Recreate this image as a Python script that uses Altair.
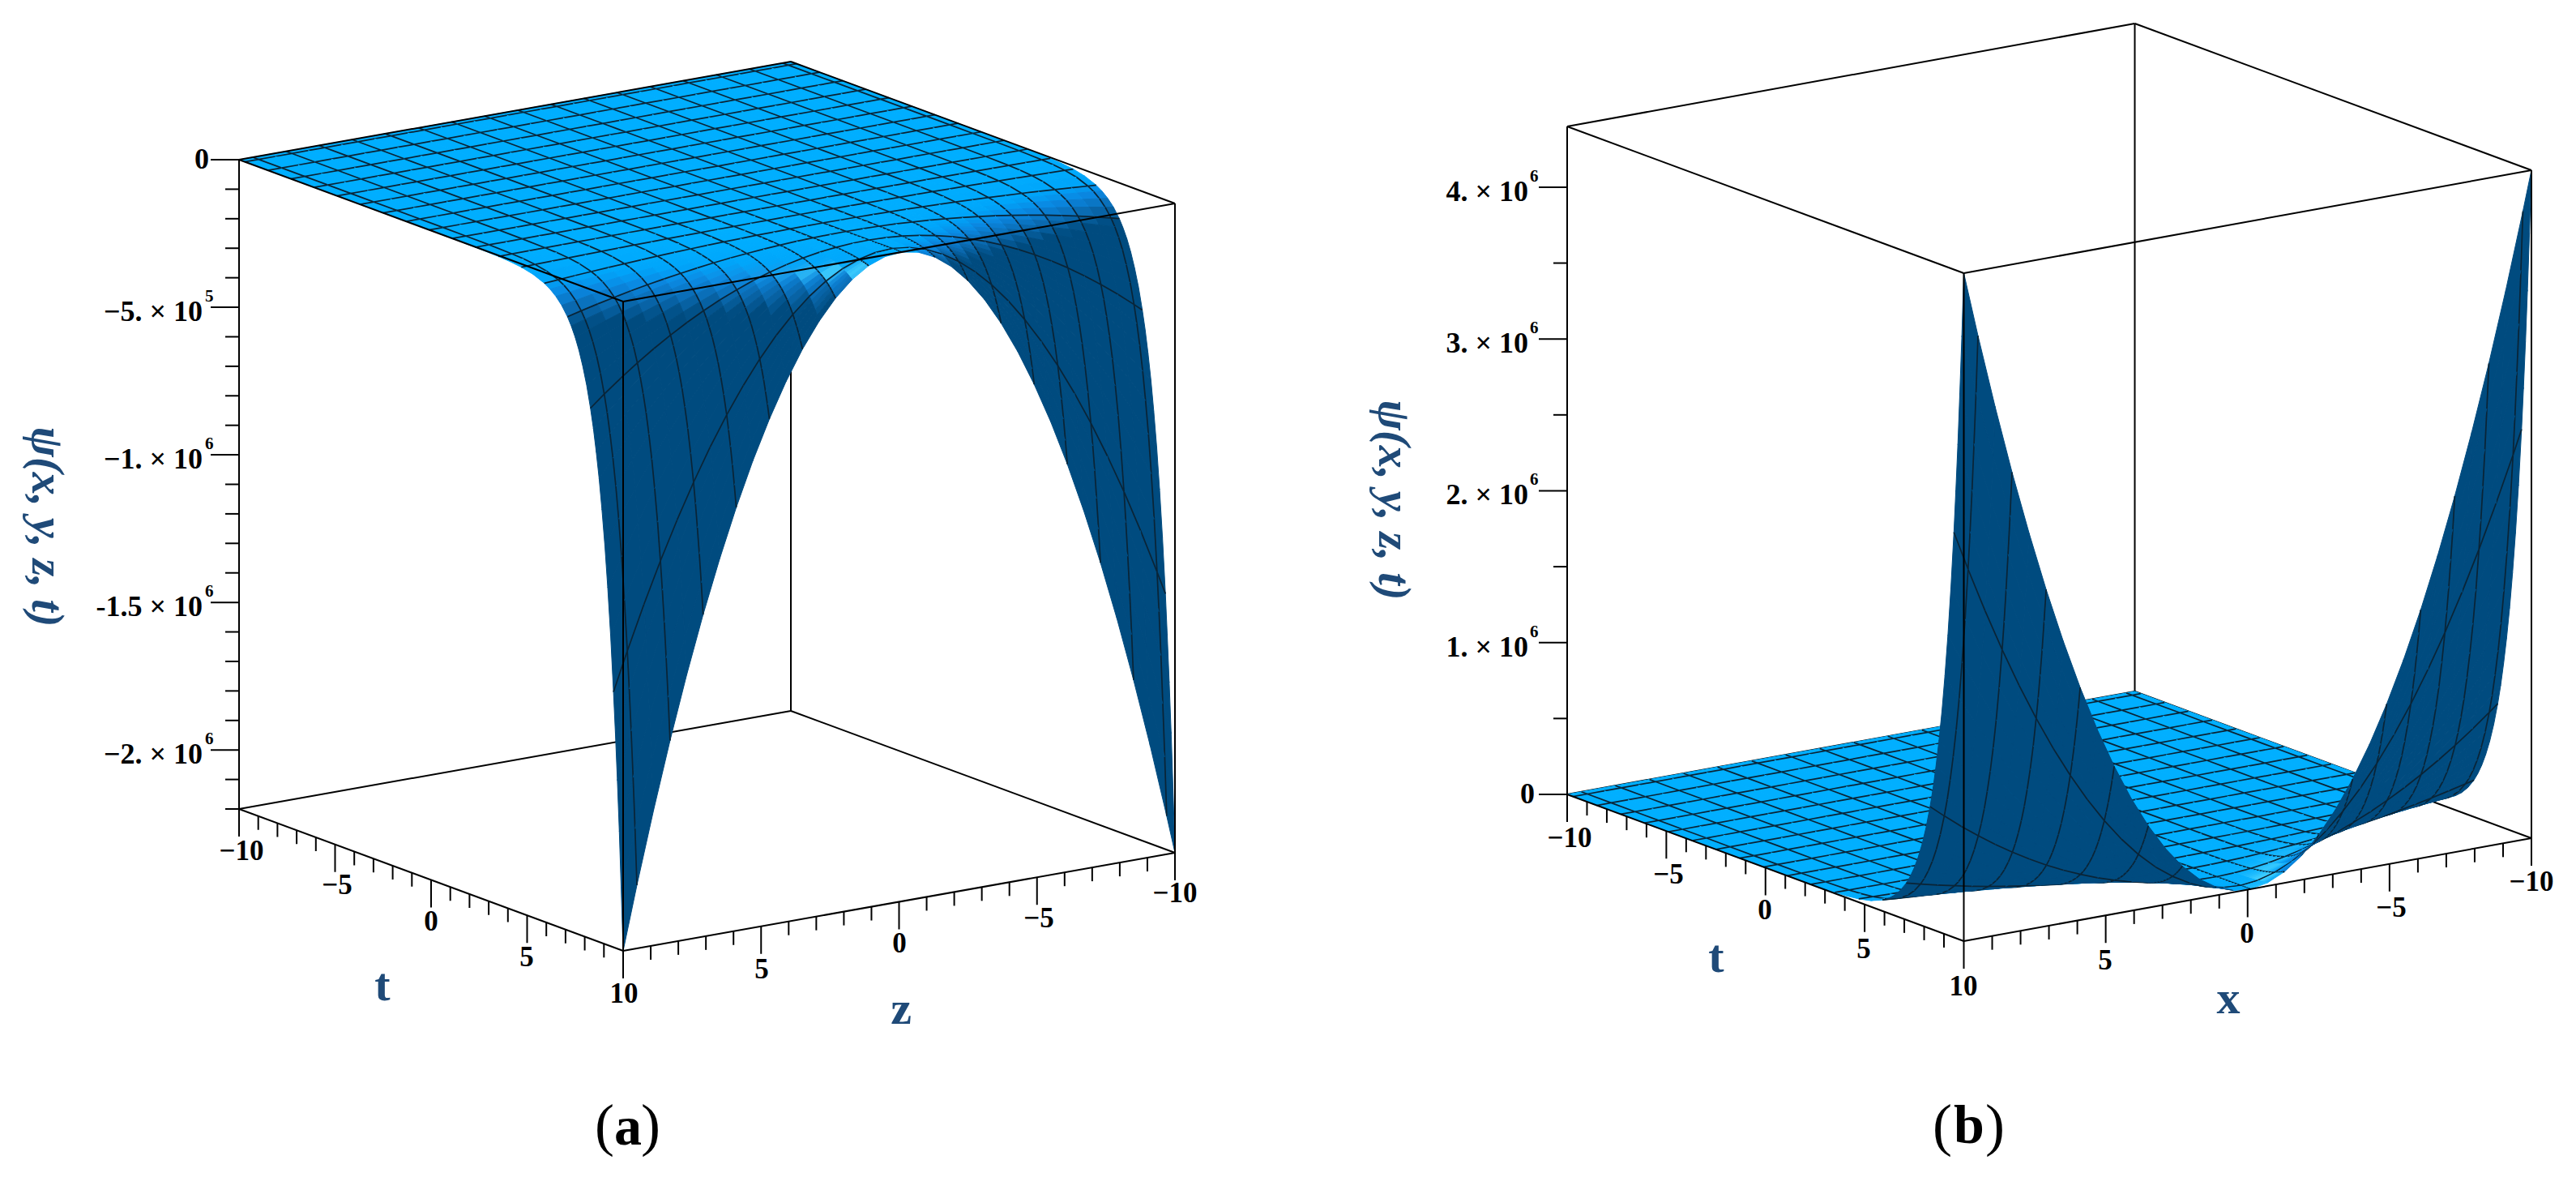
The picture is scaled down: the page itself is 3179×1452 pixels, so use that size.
"""Two surface plots of psi(x, y, z, t), drawn as painter-ordered patches."""
import math
import altair as alt
import pandas as pd

# sample positions along t and the relative size of the surface there
t_samples = [-10, -9.7, -8.5, -7.3, -6.1, -4.9, -3.7, -2.5, -1.3, -0.1, 1.1, 2.3, 3.5, 4.1, 4.7, 5.3, 5.9,
             6.2, 6.5, 6.8, 7.1, 7.3, 7.5, 7.7, 7.9, 8.1, 8.3, 8.45, 8.6, 8.75, 8.9, 9.05, 9.2, 9.35, 9.5,
             9.6, 9.7, 9.8, 9.9, 10]
t_shape = [0, 0, 0, 0, 0, 0, 0, 0, 0, 0.00004, 0.00014, 0.00045, 0.0015, 0.00274, 0.005, 0.0091, 0.0166,
           0.0224, 0.0302, 0.0408, 0.055, 0.0672, 0.0821, 0.1003, 0.1225, 0.1496, 0.1827, 0.2122, 0.2466,
           0.2865, 0.3329, 0.3867, 0.4493, 0.522, 0.6065, 0.6703, 0.7408, 0.8187, 0.9048, 1]
# same for the second variable (z in the left panel, x in the right one)
s_samples = [-10, -9.7, -9.1, -8.5, -7.9, -7.3, -6.7, -6.1, -5.5, -4.9, -4.3, -3.7, -3.1, -2.5, -1.9, -1.3,
             -0.7, -0.1, 0.5, 1.1, 1.7, 2.3, 2.9, 3.5, 4.1, 4.7, 5.3, 5.9, 6.5, 7.1, 7.7, 8.3, 8.9, 9.5, 10]
s_shape = [1, 0.9409, 0.8281, 0.7225, 0.6241, 0.5329, 0.4489, 0.3721, 0.3025, 0.2401, 0.1849, 0.1369,
           0.0961, 0.0625, 0.0361, 0.0169, 0.0049, 0.0001, 0.0025, 0.0121, 0.0289, 0.0529, 0.0841, 0.1225,
           0.1681, 0.2209, 0.2809, 0.3481, 0.4225, 0.5041, 0.5929, 0.6889, 0.7921, 0.9025, 1]
# the mesh lines sit at these positions, they do not start at the box edge
grid_t = [-9.7, -8.5, -7.3, -6.1, -4.9, -3.7, -2.5, -1.3, -0.1, 1.1, 2.3, 3.5, 4.7, 5.9, 7.1, 8.3, 9.5]
grid_s = grid_t

axis_ticks = list(range(-10, 11))
axis_labels = [-10, -5, 0, 5, 10]
left_psi_major = [0, -500000, -1000000, -1500000, -2000000]
left_psi_minor = [-100000, -200000, -300000, -400000, -600000, -700000, -800000, -900000,
                  -1100000, -1200000, -1300000, -1400000, -1600000, -1700000, -1800000,
                  -1900000, -2100000, -2200000]
left_psi_text = ["0", "−5. × 10", "−1. × 10", "-1.5 × 10", "−2. × 10"]
left_psi_sup = ["", "5", "6", "6", "6"]
right_psi_major = [0, 1000000, 2000000, 3000000, 4000000]
right_psi_minor = [500000, 1500000, 2500000, 3500000]
right_psi_text = ["0", "1. × 10", "2. × 10", "3. × 10", "4. × 10"]
right_psi_sup = ["", "6", "6", "6", "6"]

W, H = 3160, 1430
X_SCALE = alt.Scale(domain=[8, 8 + W], zero=False, nice=False)
Y_SCALE = alt.Scale(domain=[8, 8 + H], zero=False, nice=False, reverse=True)
SERIF = "Liberation Serif"
INK = "#1f4a78"

LEFT = {"L": (295, 197), "F": (769, 372), "R": (1450, 251), "H": 801, "span": 2200000, "down": True,
        "glow": (0.4, 0.45), "glow_size": 0.025, "lab_x": 250, "sup_x": 253}
RIGHT = {"L": (1934, 156), "F": (2423.5, 337), "R": (3124, 210), "H": 824, "span": 4400000, "down": False,
         "glow": (0.12, 0.25), "glow_size": 0.02, "lab_x": 1886, "sup_x": 1888}


def floor_point(panel, t, s):
    """Screen position of (t, s) on the plane that holds the box's top or bottom face."""
    a = (t + 10) / 20
    b = (10 - s) / 20
    x = panel["L"][0] + a * (panel["F"][0] - panel["L"][0]) + b * (panel["R"][0] - panel["F"][0])
    y = panel["L"][1] + a * (panel["F"][1] - panel["L"][1]) + b * (panel["R"][1] - panel["F"][1])
    return x, y


def project(panel, t, s, u):
    """u is 0 on the flat part and 1 at the far end of the vertical axis."""
    x, y = floor_point(panel, t, s)
    if panel["down"]:
        return x, y + u * panel["H"]
    return x, y + panel["H"] * (1 - u)


def mix(c1, c2, k):
    return tuple(c1[n] + (c2[n] - c1[n]) * k for n in range(3))


RAMP = [(0.0, (0, 174, 255)), (0.25, (0, 165, 250)), (0.5, (10, 135, 225)), (0.85, (10, 105, 175)),
        (1.25, (0, 75, 127))]
GLOW = (64, 207, 255)


def shade(p, q, panel, flipped):
    if flipped:
        return "#004b7f"
    slope = math.sqrt(p * p + q * q) - 0.4 * q
    colour = RAMP[-1][1]
    if slope <= 0:
        colour = RAMP[0][1]
    else:
        for (s1, c1), (s2, c2) in zip(RAMP, RAMP[1:]):
            if slope <= s2:
                colour = mix(c1, c2, (slope - s1) / (s2 - s1))
                break
    cp, cq = panel["glow"]
    h = math.exp(-((abs(p) - cp) ** 2 + (q - cq) ** 2) / panel["glow_size"])
    colour = mix(colour, GLOW, h)
    return "#%02x%02x%02x" % tuple(int(round(v)) for v in colour)


def signed_area(pts):
    return sum(pts[n][0] * pts[(n + 1) % 4][1] - pts[(n + 1) % 4][0] * pts[n][1] for n in range(4))


def surface_rows(panel, tag):
    rows = []
    gid = 0

    def add(points, fill, stroke, sw):
        nonlocal gid
        gid += 1
        for k, (x, y) in enumerate(points):
            rows.append({"g": f"{tag}{gid}", "o": k, "x": round(x, 1), "y": round(y, 1),
                         "f": fill, "c": stroke, "w": sw})

    flat = signed_area([project(panel, -10, -10, 0), project(panel, 10, -10, 0),
                        project(panel, 10, 10, 0), project(panel, -10, 10, 0)])
    for i in range(len(t_samples) - 1):
        for j in range(len(s_samples) - 1):
            t0, t1 = t_samples[i], t_samples[i + 1]
            s0, s1 = s_samples[j], s_samples[j + 1]
            u00 = t_shape[i] * s_shape[j]
            u10 = t_shape[i + 1] * s_shape[j]
            u11 = t_shape[i + 1] * s_shape[j + 1]
            u01 = t_shape[i] * s_shape[j + 1]
            p = ((u10 + u11 - u00 - u01) / 2) / ((t1 - t0) / 20)
            q = ((u01 + u11 - u00 - u10) / 2) / ((s1 - s0) / 20)
            if not panel["down"]:
                q = -q
            a = project(panel, t0, s0, u00)
            b = project(panel, t1, s0, u10)
            c = project(panel, t1, s1, u11)
            d = project(panel, t0, s1, u01)
            col = shade(p, q, panel, signed_area([a, b, c, d]) * flat < 0)
            add([a, b, c, d, a], col, col, 1)
            if t0 in grid_t:
                add([a, d], "transparent", "#0a2436", 1.7)
            if s0 in grid_s:
                add([a, b], "transparent", "#0a2436", 1.7)
    return rows


def box_edges(panel, tag):
    """Returns the box edges split into those behind and those in front of the surface."""
    low = 1 if panel["down"] else 0
    high = 0 if panel["down"] else 1
    corners = [(-10, 10), (10, 10), (10, -10), (-10, -10)]
    back, front = [], []

    def edge(target, name, p1, p2):
        for k, pt in enumerate((p1, p2)):
            target.append({"g": f"{tag}{name}", "o": k, "x": pt[0], "y": pt[1]})

    top = [project(panel, t, s, high) for t, s in corners]
    bottom = [project(panel, t, s, low) for t, s in corners]
    edge(back, "b1", bottom[2], bottom[3])
    edge(back, "b2", bottom[3], bottom[0])
    edge(back, "v4", top[3], bottom[3])
    edge(front, "b3", bottom[0], bottom[1])
    edge(front, "b4", bottom[1], bottom[2])
    edge(front, "v1", top[0], bottom[0])
    edge(front, "v2", top[1], bottom[1])
    edge(front, "v3", top[2], bottom[2])
    for n in range(4):
        edge(front, f"t{n}", top[n], top[(n + 1) % 4])
    return back, front


def axis_ticks_rows(panel, tag, psi_major, psi_minor):
    rows = []
    low = 1 if panel["down"] else 0
    for v in axis_ticks:
        size = 34 if v % 5 == 0 else 17
        x, y = project(panel, v, 10, low)
        rows += [{"g": f"{tag}t{v}", "o": 0, "x": x, "y": y}, {"g": f"{tag}t{v}", "o": 1, "x": x, "y": y + size}]
        if v != 10:
            x, y = project(panel, 10, v, low)
            rows += [{"g": f"{tag}s{v}", "o": 0, "x": x, "y": y}, {"g": f"{tag}s{v}", "o": 1, "x": x, "y": y + size}]
    for v, size in [(m, 35) for m in psi_major] + [(m, 17) for m in psi_minor]:
        x, y = project(panel, -10, 10, abs(v) / panel["span"])
        rows += [{"g": f"{tag}p{v}", "o": 0, "x": x, "y": y}, {"g": f"{tag}p{v}", "o": 1, "x": x - size, "y": y}]
    return rows


def path_layer(rows, width=2, colour="black"):
    return alt.Chart(pd.DataFrame(rows)).mark_line(color=colour, strokeWidth=width).encode(
        x=alt.X("x:Q", scale=X_SCALE, axis=None),
        y=alt.Y("y:Q", scale=Y_SCALE, axis=None),
        detail="g:N",
        order="o:Q",
    )


def surface_layer(rows):
    return alt.Chart(pd.DataFrame(rows)).mark_line().encode(
        x=alt.X("x:Q", scale=X_SCALE, axis=None),
        y=alt.Y("y:Q", scale=Y_SCALE, axis=None),
        detail="g:N",
        order="o:Q",
        fill=alt.Fill("f:N", scale=None),
        stroke=alt.Stroke("c:N", scale=None),
        strokeWidth=alt.StrokeWidth("w:N", scale=None),
    )


def text_layer(rows, **style):
    base = {"font": SERIF, "baseline": "middle", "align": "center"}
    base.update(style)
    return alt.Chart(pd.DataFrame(rows)).mark_text(**base).encode(
        x=alt.X("x:Q", scale=X_SCALE, axis=None),
        y=alt.Y("y:Q", scale=Y_SCALE, axis=None),
        text="s:N",
    )


def psi_labels(panel, psi_major, texts, sups):
    main, sup = [], []
    for v, s, e in zip(psi_major, texts, sups):
        _, y = project(panel, -10, 10, abs(v) / panel["span"])
        main.append({"x": panel["lab_x"] + (8 if v == 0 else 0), "y": y + (0 if v == 0 else 6), "s": s})
        if e:
            sup.append({"x": panel["sup_x"], "y": y - 13, "s": e})
    return main, sup


left_back, left_front = box_edges(LEFT, "a")
right_back, right_front = box_edges(RIGHT, "b")

psi_a, sup_a = psi_labels(LEFT, left_psi_major, left_psi_text, left_psi_sup)
psi_b, sup_b = psi_labels(RIGHT, right_psi_major, right_psi_text, right_psi_sup)

axis_text = [
    {"x": 298, "y": 1050, "s": "−10"}, {"x": 416, "y": 1092, "s": "−5"}, {"x": 532, "y": 1137, "s": "0"},
    {"x": 650, "y": 1181, "s": "5"}, {"x": 770, "y": 1226, "s": "10"}, {"x": 940, "y": 1196, "s": "5"},
    {"x": 1110, "y": 1164, "s": "0"}, {"x": 1282, "y": 1133, "s": "−5"}, {"x": 1450, "y": 1102, "s": "−10"},
    {"x": 1937, "y": 1034, "s": "−10"}, {"x": 2059, "y": 1079, "s": "−5"}, {"x": 2178, "y": 1123, "s": "0"},
    {"x": 2300, "y": 1171, "s": "5"}, {"x": 2423, "y": 1217, "s": "10"}, {"x": 2598, "y": 1185, "s": "5"},
    {"x": 2773, "y": 1152, "s": "0"}, {"x": 2951, "y": 1120, "s": "−5"}, {"x": 3124, "y": 1088, "s": "−10"},
]
var_text = [
    {"x": 472, "y": 1217, "s": "t"}, {"x": 1112, "y": 1246, "s": "z"},
    {"x": 2118, "y": 1182, "s": "t"}, {"x": 2750, "y": 1233, "s": "x"},
]
psi_title = [{"x": 57, "y": 650, "s": "ψ(x, y, z, t)"}, {"x": 1719, "y": 617, "s": "ψ(x, y, z, t)"}]
paren_text = [
    {"x": 746, "y": 1390, "s": "("}, {"x": 803, "y": 1390, "s": ")"},
    {"x": 2397, "y": 1390, "s": "("}, {"x": 2462, "y": 1390, "s": ")"},
]
letter_text = [{"x": 775, "y": 1392, "s": "a"}, {"x": 2430, "y": 1390, "s": "b"}]

chart = alt.layer(
    path_layer(left_back + right_back),
    surface_layer(surface_rows(LEFT, "a") + surface_rows(RIGHT, "b")),
    path_layer(left_front + right_front),
    path_layer(axis_ticks_rows(LEFT, "a", left_psi_major, left_psi_minor)
               + axis_ticks_rows(RIGHT, "b", right_psi_major, right_psi_minor)),
    text_layer(psi_a + psi_b, fontSize=36, fontWeight="bold", align="right", color="black"),
    text_layer(sup_a + sup_b, fontSize=21, fontWeight="bold", align="left", color="black"),
    text_layer(axis_text, fontSize=35, fontWeight="bold", color="black"),
    text_layer(var_text, fontSize=58, fontWeight="bold", color=INK),
    text_layer(psi_title, fontSize=56, fontWeight="bold", fontStyle="italic", angle=90, color=INK),
    text_layer(paren_text, fontSize=72, color="black"),
    text_layer(letter_text, fontSize=68, fontWeight="bold", color="black"),
).properties(width=W, height=H, padding=0, autosize="none", background="white").configure_view(stroke=None)

chart.save("out.html", embed_options={"renderer": "svg", "actions": False})
